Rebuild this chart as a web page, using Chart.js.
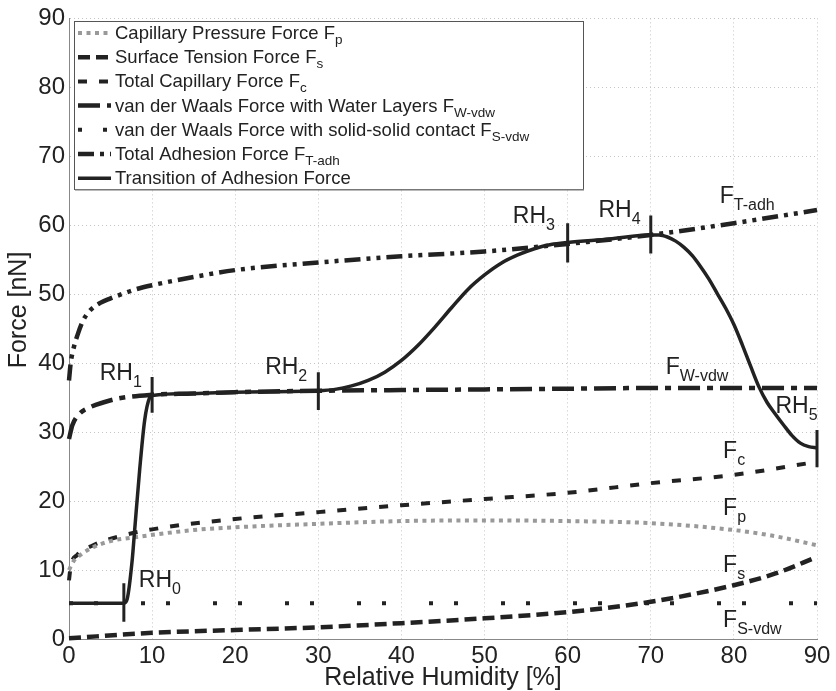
<!DOCTYPE html>
<html>
<head>
<meta charset="utf-8">
<script src="https://cdn.jsdelivr.net/npm/chart.js@4.4.1/dist/chart.umd.min.js"></script>
<style>
  body { margin: 0; background: #fff; }
  #wrap { width: 836px; height: 691px; }
</style>
</head>
<body>
<div id="wrap"><canvas id="myChart" width="836" height="691"></canvas></div>
<script>
// relative humidity [%] and force [nN]
const xTicks = [0, 10, 20, 30, 40, 50, 60, 70, 80, 90];
const yTicks = [0, 10, 20, 30, 40, 50, 60, 70, 80, 90];

const fpX = [0, 0.5, 1.5, 2.9, 5, 8.2, 15, 20, 30, 40, 50, 60, 70, 80, 85, 90];
const fpY = [10, 11.2, 12.3, 13.3, 14.2, 14.8, 15.8, 16.2, 16.7, 17.1, 17.2, 17.1, 16.8, 15.8, 14.9, 13.6];

const fsX = [0, 10, 20, 30, 40, 50, 60, 70, 80, 85, 90];
const fsY = [0.1, 0.9, 1.3, 1.7, 2.3, 3.0, 3.9, 5.4, 7.8, 9.5, 11.9];

const fcX = [0, 0.2, 1, 2.9, 5.8, 10, 20, 30, 40, 50, 60, 70, 80, 90];
const fcY = [8.5, 10.5, 12.2, 13.6, 14.8, 15.9, 17.4, 18.4, 19.4, 20.3, 21.2, 22.6, 23.8, 25.7];

const fwX = [0, 0.4, 1.3, 2.5, 4.1, 6, 9.7, 15, 20, 30, 40, 50, 60, 70, 80, 90];
const fwY = [29, 31, 32.7, 33.6, 34.3, 34.9, 35.4, 35.6, 35.8, 36.0, 36.1, 36.2, 36.3, 36.4, 36.4, 36.4];

const fsvX = [0, 90];
const fsvY = [5.2, 5.2];

const ftX = [0, 0.2, 0.5, 1, 1.7, 2.5, 3.7, 5, 6.1, 8, 10, 15, 20, 30, 40, 50, 60, 70, 80, 90];
const ftY = [37.5, 40, 41.9, 44, 46.2, 47.6, 48.7, 49.4, 49.9, 50.7, 51.3, 52.5, 53.5, 54.6, 55.5, 56.2, 57.3, 58.6, 60.3, 62.2];

const trX = [0, 6.6, 7, 7.6, 7.9, 8.5, 9.1, 9.7, 10, 15, 20, 30, 32, 34, 36, 38, 40, 42, 44, 46, 48, 50, 52, 54, 56, 58, 60, 65, 70, 71, 72, 73, 74, 75, 76, 77, 78, 79, 80, 81, 82, 83, 84, 85, 86, 87, 88, 89, 90];
const trY = [5.2, 5.2, 5.8, 11.4, 15.8, 24.5, 31.7, 35.0, 35.3, 35.6, 35.8, 36.0, 36.2, 36.7, 37.5, 38.7, 40.4, 42.6, 45.2, 48.0, 50.7, 52.8, 54.5, 55.7, 56.6, 57.2, 57.5, 58.0, 58.6, 58.6, 58.3, 57.7, 56.8, 55.6, 54.0, 52.2, 50.1, 48.0, 45.6, 42.7, 39.6, 36.6, 34.3, 32.6, 31.0, 29.5, 28.4, 27.9, 27.7];

// RH markers (vertical bars)
const rhX = [6.6, 10, 30, 60, 70, 90];
const rhLow = [2.5, 32.8, 33.2, 54.6, 55.9, 24.9];
const rhHigh = [8.1, 38, 38.7, 60.3, 61.4, 30.3];

const legendNames = [
  ['Capillary Pressure Force F', 'p'],
  ['Surface Tension Force F', 's'],
  ['Total Capillary Force F', 'c'],
  ['van der Waals Force with Water Layers F', 'W-vdw'],
  ['van der Waals Force with solid-solid contact F', 'S-vdw'],
  ['Total Adhesion Force F', 'T-adh'],
  ['Transition of Adhesion Force', '']
];

// text labels in the plot: [text, subscript, x, y]
const notes = [
  ['RH', '0', 8.4, 7.5],
  ['RH', '1', 3.7, 37.5],
  ['RH', '2', 23.6, 38.4],
  ['RH', '3', 53.4, 60.3],
  ['RH', '4', 63.7, 61.2],
  ['RH', '5', 85, 32.8],
  ['F', 'T-adh', 78.3, 63.2],
  ['F', 'W-vdw', 71.8, 38.5],
  ['F', 'c', 78.7, 26.2],
  ['F', 'p', 78.7, 18],
  ['F', 's', 78.7, 9.7],
  ['F', 'S-vdw', 78.7, 1.7]
];

const FONT = 'Liberation Sans, Arial, sans-serif';
const ink = '#222';

const pts = (xs, ys) => xs.map((x, i) => ({ x: x, y: ys[i] }));

const rhData = [];
rhX.forEach((x, i) => {
  rhData.push({ x: x, y: rhLow[i] }, { x: x, y: rhHigh[i] }, { x: x, y: null });
});

function line(label, data, color, width, dash, order) {
  return {
    label: label,
    data: data,
    borderColor: color,
    borderWidth: width,
    borderDash: dash,
    borderCapStyle: 'butt',
    pointRadius: 0,
    cubicInterpolationMode: 'monotone',
    fill: false,
    clip: 8,
    order: order
  };
}

const datasets = [
  line('Fp', pts(fpX, fpY), '#999', 4, [4, 4.5], 2),
  line('Fs', pts(fsX, fsY), ink, 4.5, [12, 6], 2),
  line('Fc', pts(fcX, fcY), ink, 4, [9, 12], 2),
  line('Fw', pts(fwX, fwY), ink, 4.5, [22, 7, 6, 7], 2),
  line('Fsv', pts(fsvX, fsvY), ink, 4, [4, 21, 4, 43], 2),
  line('Ft', pts(ftX, ftY), ink, 4.5, [16, 6, 4, 6, 4, 6], 2),
  line('Transition', pts(trX, trY), ink, 3.5, [], 1),
  Object.assign(line('RH', rhData, ink, 3, [], 0), { tension: 0, cubicInterpolationMode: 'default', spanGaps: false })
];

function subText(ctx, main, sub, x, y, size, subSize, drop) {
  ctx.font = size + 'px ' + FONT;
  ctx.fillText(main, x, y);
  const w = ctx.measureText(main).width;
  if (sub) {
    ctx.font = subSize + 'px ' + FONT;
    ctx.fillText(sub, x + w, y + drop);
  }
}

const extras = {
  id: 'extras',
  afterDraw(chart) {
    const ctx = chart.ctx;
    const sx = chart.scales.x, sy = chart.scales.y, area = chart.chartArea;
    ctx.save();
    ctx.fillStyle = ink;
    ctx.textAlign = 'left';
    ctx.textBaseline = 'alphabetic';

    notes.forEach(n => {
      subText(ctx, n[0], n[1], sx.getPixelForValue(n[2]), sy.getPixelForValue(n[3]), 23, 16, 7);
    });

    // legend
    const bx = 74, by = 21, bw = 509, bh = 168;
    ctx.fillStyle = '#fff';
    ctx.fillRect(bx, by, bw, bh);
    ctx.strokeStyle = '#555';
    ctx.lineWidth = 1;
    ctx.strokeRect(bx + 0.5, by + 0.5, bw, bh);
    ctx.fillStyle = '#777';
    ctx.fillRect(bx + 1, by + bh, bw, 1.5);

    legendNames.forEach((nm, i) => {
      const base = 39 + i * 24.2;
      const ds = datasets[i];
      ctx.save();
      ctx.strokeStyle = ds.borderColor;
      ctx.lineWidth = ds.borderWidth;
      ctx.setLineDash(ds.borderDash);
      ctx.lineCap = 'butt';
      ctx.beginPath();
      ctx.moveTo(78, base - 6);
      ctx.lineTo(111, base - 6);
      ctx.stroke();
      ctx.restore();
      ctx.fillStyle = ink;
      subText(ctx, nm[0], nm[1], 115, base, 18.5, 13.5, 5);
    });

    // axis titles
    ctx.fillStyle = ink;
    ctx.textAlign = 'center';
    ctx.font = '25px ' + FONT;
    ctx.fillText('Relative Humidity [%]', (area.left + area.right) / 2, 685);
    ctx.save();
    ctx.translate(26, 310);
    ctx.rotate(-Math.PI / 2);
    ctx.fillText('Force [nN]', 0, 0);
    ctx.restore();
    ctx.restore();
  }
};

const ctx = document.getElementById('myChart').getContext('2d');
new Chart(ctx, {
  type: 'line',
  data: { datasets: datasets },
  options: {
    responsive: false,
    animation: false,
    events: [],
    layout: { padding: { top: 18, right: 19, left: 0, bottom: 0 } },
    plugins: { legend: { display: false }, tooltip: { enabled: false } },
    scales: {
      x: {
        type: 'linear',
        min: 0,
        max: 90,
        afterBuildTicks: s => { s.ticks = xTicks.map(v => ({ value: v })); },
        afterFit: s => { s.height = 52; },
        ticks: { color: ink, font: { family: FONT, size: 24 }, padding: 3, maxRotation: 0 },
        grid: { color: '#c4c4c4', lineWidth: 1, drawTicks: false },
        border: { color: '#888', width: 1, dash: [1, 3] }
      },
      y: {
        type: 'linear',
        min: 0,
        max: 90,
        afterBuildTicks: s => { s.ticks = yTicks.map(v => ({ value: v })); },
        afterFit: s => { s.width = 69; },
        ticks: { color: ink, font: { family: FONT, size: 24 }, padding: 4 },
        grid: { color: '#c4c4c4', lineWidth: 1, drawTicks: false },
        border: { color: '#888', width: 1, dash: [1, 3] }
      }
    }
  },
  plugins: [extras]
});
</script>
</body>
</html>
